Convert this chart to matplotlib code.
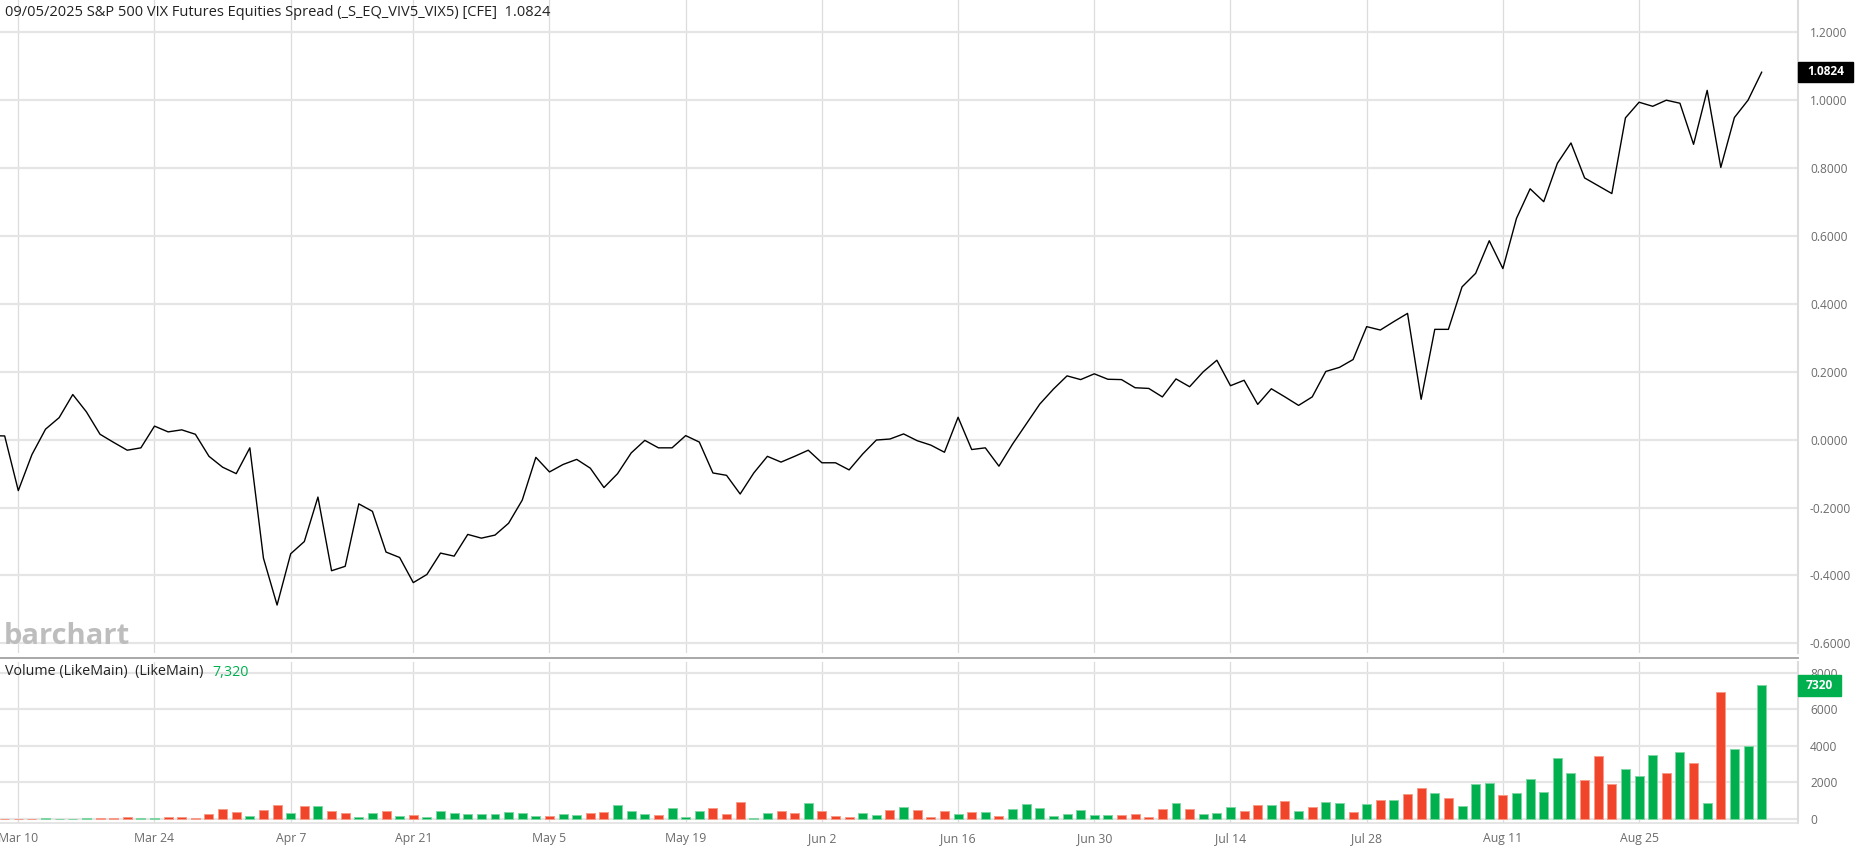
import numpy as np
import pandas as pd
import matplotlib
matplotlib.use('Agg')
import matplotlib.pyplot as plt
from matplotlib.lines import Line2D
from matplotlib.patches import Rectangle

plt.rcParams['font.family'] = ['Open Sans', 'DejaVu Sans']

# trading days on the chart (CFE closed on Good Friday)
dates = pd.bdate_range('2025-03-06', '2025-09-05')
dates = dates[dates != pd.Timestamp('2025-04-18')]

# daily close of the spread
spread = [0.012, 0.011, -0.150, -0.044, 0.031, 0.065, 0.133, 0.082, 0.016, -0.008,
          -0.031, -0.024, 0.040, 0.023, 0.029, 0.016, -0.049, -0.081, -0.100, -0.024,
          -0.349, -0.487, -0.336, -0.300, -0.169, -0.386, -0.373, -0.189, -0.211, -0.331,
          -0.347, -0.421, -0.397, -0.334, -0.343, -0.279, -0.290, -0.281, -0.246, -0.178,
          -0.052, -0.095, -0.073, -0.058, -0.084, -0.141, -0.100, -0.039, -0.002, -0.024,
          -0.024, 0.012, -0.007, -0.098, -0.105, -0.160, -0.098, -0.049, -0.066, -0.049,
          -0.031, -0.068, -0.068, -0.089, -0.042, -0.001, 0.002, 0.017, -0.003, -0.016,
          -0.037, 0.066, -0.029, -0.024, -0.078, -0.013, 0.046, 0.105, 0.149, 0.188,
          0.177, 0.194, 0.178, 0.177, 0.153, 0.151, 0.126, 0.179, 0.156, 0.200,
          0.234, 0.159, 0.175, 0.104, 0.150, 0.126, 0.101, 0.126, 0.201, 0.213,
          0.236, 0.333, 0.323, 0.348, 0.372, 0.119, 0.325, 0.325, 0.450, 0.490,
          0.586, 0.504, 0.652, 0.739, 0.701, 0.814, 0.874, 0.771, 0.748, 0.725,
          0.948, 0.994, 0.982, 1.000, 0.991, 0.870, 1.029, 0.802, 0.949, 1.000, 1.0824]

# daily volume and bar colour (g = up, r = down)
volume = [15, 20, 20, 20, 30, 10, 10, 30, 30, 55,
          90, 55, 55, 90, 110, 55, 273, 547, 364, 146,
          474, 765, 328, 692, 711, 437, 310, 128, 328, 455,
          182, 219, 128, 437, 310, 292, 292, 292, 364, 328,
          182, 146, 255, 237, 310, 383, 765, 455, 255, 237,
          601, 128, 437, 601, 255, 929, 36, 310, 437, 328,
          856, 419, 164, 128, 328, 200, 510, 674, 510, 109,
          455, 273, 383, 400, 182, 528, 838, 583, 182, 273,
          510, 200, 219, 219, 273, 91, 547, 856, 547, 273,
          310, 638, 455, 765, 765, 966, 437, 656, 929, 856,
          400, 802, 1020, 1020, 1367, 1713, 1440, 1148, 711, 1913,
          1986, 1312, 1403, 2186, 1476, 3316, 2496, 2132, 3425, 1913,
          2715, 2369, 3516, 2514, 3680, 3079, 893, 6924, 3808, 4008, 7320]
direction = ("rrrrggggrr" "rggrrrrrrg" "rrgrgrrggr" "grgggggggg" "grggrrgggr"
             "gggrrrggrr" "grrrggrgrr" "rgrgrggggg" "gggrrrrgrg" "ggrrgrgrgg"
             "rgrgrrgrgg" "grgggggrrr" "gggrgrgrggg")

tick_labels = ["Mar 10", "Mar 24", "Apr 7", "Apr 21", "May 5", "May 19", "Jun 2",
               "Jun 16", "Jun 30", "Jul 14", "Jul 28", "Aug 11", "Aug 25"]
price_ticks = [-0.6, -0.4, -0.2, 0.0, 0.2, 0.4, 0.6, 0.8, 1.0, 1.2]
volume_ticks = [0, 2000, 4000, 6000, 8000]

title = "09/05/2025 S&P 500 VIX Futures Equities Spread (_S_EQ_VIV5_VIX5) [CFE]  1.0824"
last_price = "1.0824"
last_volume = "7320"

GREEN = '#00b04f'
RED = '#f0452b'
GRID = '#e5e5e5'
VGRID = '#dcdcdc'
LABEL = '#6b6b6b'

W, H = 1857, 850
x = np.arange(len(dates))
tick_pos = [dates.get_loc(pd.Timestamp(t + " 2025")) for t in tick_labels]
i0 = tick_pos[0]

fig = plt.figure(figsize=(W / 100, H / 100), dpi=100)
right = 1798 / W
ax = fig.add_axes([0, (H - 653) / H, right, 653 / H])
axv = fig.add_axes([0, (H - 823) / H, right, (823 - 661.7) / H], sharex=ax)

# price pane
ax.plot(x, spread, color='black', lw=1.0, zorder=3)
ax.set_ylim(-0.6283, 1.2951)
ax.set_yticks(price_ticks)
ax.set_yticklabels([f"{v:.4f}" for v in price_ticks])
ax.set_xlim(i0 - 18.3 / 13.62, i0 + (1798 - 18.3) / 13.62)
ax.grid(axis='y', color=GRID, lw=1.6)
ax.grid(axis='x', color=VGRID, lw=0.9)
ax.set_axisbelow(True)

# volume pane
bar_colors = [GREEN if d == 'g' else RED for d in direction]
edge_colors = ['#7ed6a3' if d == 'g' else '#f79a88' for d in direction]
axv.bar(x, volume, width=0.66, color=bar_colors, edgecolor=edge_colors, linewidth=0.7, zorder=3)
axv.set_ylim(-219, 8601)
axv.set_yticks(volume_ticks)
axv.set_yticklabels([str(v) for v in volume_ticks])
axv.set_xticks(tick_pos)
axv.set_xticklabels(tick_labels)
axv.grid(axis='y', color=GRID, lw=1.6)
axv.grid(axis='x', color=VGRID, lw=0.9)
axv.set_axisbelow(True)

for a in (ax, axv):
    a.yaxis.tick_right()
    a.tick_params(axis='y', length=0, pad=8.6, labelsize=8.6, labelcolor=LABEL)
    a.tick_params(axis='x', length=0, pad=6.5, labelsize=8.8, labelcolor=LABEL)
    for s in ('left', 'top', 'bottom'):
        a.spines[s].set_visible(False)
    a.spines['right'].set_color('#dcdcdc')
    a.spines['right'].set_linewidth(1.5)
ax.tick_params(axis='x', labelbottom=False)
axv.spines['bottom'].set_visible(True)
axv.spines['bottom'].set_color('#e0e0e0')
axv.spines['bottom'].set_linewidth(1.2)

# separator between panes
fig.add_artist(Line2D([0, right], [(H - 657.7) / H] * 2, color='#a8a8a8', lw=1.4))

# texts
fig.text(5 / W, 1 - 12 / H, title, fontsize=10.5, color='#222222', va='center', ha='left')
fig.text(4 / W, 1 - 637 / H, 'barchart', fontsize=21, fontweight='bold', color='#bdbdbd',
         va='center', ha='left')
fig.text(5 / W, 1 - 672 / H, 'Volume (LikeMain)  (LikeMain)', fontsize=10.3, color='#222222',
         va='center', ha='left')
fig.text(212 / W, 1 - 672 / H, f"{int(last_volume):,}", fontsize=10.3, color=GREEN,
         va='center', ha='left')

# last value markers on the right axis
fig.add_artist(Rectangle((1798 / W, 1 - 81.7 / H), 55 / W, 20 / H, color='black',
                         transform=fig.transFigure))
fig.text(1825.5 / W, 1 - 71.7 / H, last_price, fontsize=8.6, fontweight='bold', color='white',
         va='center', ha='center')
fig.add_artist(Rectangle((1798 / W, 1 - 696 / H), 43 / W, 21 / H, color=GREEN,
                         transform=fig.transFigure))
fig.text(1819.5 / W, 1 - 685.5 / H, last_volume, fontsize=8.6, fontweight='bold', color='white',
         va='center', ha='center')

fig.savefig('out.png', dpi=100)
